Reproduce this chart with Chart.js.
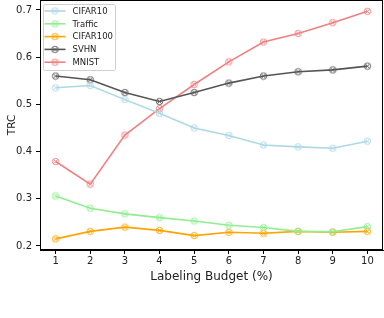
<!DOCTYPE html>
<html><head><meta charset="utf-8">
<script src="https://cdn.jsdelivr.net/npm/chart.js@4"></script>
<style>html,body{margin:0;padding:0;background:#fff}#c{display:block}</style>
</head><body>
<canvas id="c" width="384" height="318"></canvas>
<script>
const budgets = [1,2,3,4,5,6,7,8,9,10];
const xTicks = [1,2,3,4,5,6,7,8,9,10];
const yTicks = [0.2,0.3,0.4,0.5,0.6,0.7];
const seriesNames = ['CIFAR10','Traffic','CIFAR100','SVHN','MNIST'];
const cifar10 = [0.535,0.540,0.510,0.481,0.450,0.434,0.414,0.410,0.407,0.422];
const traffic = [0.306,0.280,0.268,0.260,0.253,0.244,0.239,0.231,0.230,0.241];
const cifar100 = [0.215,0.231,0.240,0.233,0.222,0.229,0.227,0.231,0.229,0.231];
const svhn = [0.560,0.552,0.525,0.506,0.525,0.545,0.560,0.569,0.573,0.581];
const mnist = [0.379,0.331,0.435,0.491,0.542,0.590,0.632,0.650,0.673,0.697];
const colors = ['#add8e6','#90ee90','#ffa500','#555555','#f08080'];
const values = [cifar10, traffic, cifar100, svhn, mnist];
const xTitle = 'Labeling Budget (%)';
const yTitle = 'TRC';

function marker(color){
  const c = document.createElement('canvas');
  c.width = 9; c.height = 9;
  const g = c.getContext('2d');
  const r = 3.2, cx = 4.5, cy = 4.5;
  g.strokeStyle = color; g.lineWidth = 1;
  g.globalAlpha = 0.9;
  g.beginPath(); g.arc(cx,cy,r,0,Math.PI*2); g.stroke();
  const d = r*0.7;
  g.beginPath();
  g.moveTo(cx-d,cy-d); g.lineTo(cx+d,cy+d);
  g.moveTo(cx+d,cy-d); g.lineTo(cx-d,cy+d);
  g.stroke();
  return c;
}
const markers = colors.map(marker);

const datasets = seriesNames.map((n,i)=>({
  label:n,
  data: budgets.map((b,j)=>({x:b,y:values[i][j]})),
  borderColor: colors[i],
  backgroundColor: colors[i],
  borderWidth: 1.6,
  pointStyle: markers[i],
  pointRadius: 3.5,
  tension: 0
}));

const FONT = "'DejaVu Sans'";
const zeroPad = () => ({left:0, top:0, right:0, bottom:0});

const framePlugin = {
  id:'frame',
  afterDraw(chart){
    const {ctx, chartArea:a} = chart;
    ctx.save();
    ctx.strokeStyle = '#000'; ctx.lineWidth = 1;
    ctx.strokeRect(Math.round(a.left)+0.5, Math.round(a.top)+0.5, Math.round(a.right-a.left)-1, Math.round(a.bottom-a.top)-1);
    // axis titles
    ctx.fillStyle = '#222';
    ctx.textAlign = 'center'; ctx.textBaseline = 'middle';
    ctx.font = "12px " + FONT;
    ctx.fillText(xTitle, (a.left+a.right)/2, a.bottom + 26.5);
    ctx.save();
    ctx.translate(12, (a.top+a.bottom)/2);
    ctx.rotate(-Math.PI/2);
    ctx.font = "10.5px " + FONT;
    ctx.fillText(yTitle, 0, 0);
    ctx.restore();
    // legend
    ctx.textAlign = 'left';
    const lx = a.left+3.5, ly = a.top+4.5, lw = 72, lh = 66;
    ctx.fillStyle = 'rgba(255,255,255,0.8)';
    ctx.strokeStyle = '#d0d0d0';
    ctx.beginPath();
    if (ctx.roundRect) ctx.roundRect(lx,ly,lw,lh,2); else ctx.rect(lx,ly,lw,lh);
    ctx.fill(); ctx.stroke();
    ctx.font = "8.5px " + FONT;
    seriesNames.forEach((n,i)=>{
      const y = ly + 6.5 + i*12.8;
      ctx.strokeStyle = colors[i]; ctx.lineWidth = 1.6;
      ctx.beginPath(); ctx.moveTo(lx+1, y); ctx.lineTo(lx+22, y); ctx.stroke();
      ctx.drawImage(markers[i], lx+11.5-4.5, y-4.5);
      ctx.fillStyle = '#222';
      ctx.fillText(n, lx+29, y+0.5);
    });
    ctx.restore();
  }
};

new Chart(document.getElementById('c'), {
  type:'line',
  data:{datasets},
  plugins:[framePlugin],
  options:{
    responsive:false, animation:false,
    layout:{autoPadding:false, padding:{top:0,right:1,left:0,bottom:0}},
    plugins:{legend:{display:false}, tooltip:{enabled:false}},
    scales:{
      x:{
        type:'linear', min:0.55, max:10.45,
        afterBuildTicks(s){ s.ticks = xTicks.map(v=>({value:v})); },
        afterFit(s){ s.height = 68; s.paddingLeft = 0; s.paddingRight = 0; s.paddingTop = 0; s.paddingBottom = 0; s.getPadding = zeroPad; },
        grid:{drawOnChartArea:false, drawTicks:true, tickLength:4, color:'#000', tickColor:'#000'},
        border:{display:true,color:'#000'},
        ticks:{color:'#222', font:{family:FONT,size:10}, padding:1, maxRotation:0, callback:v=>String(v)},
        title:{display:false}
      },
      y:{
        type:'linear', min:0.1915, max:0.721,
        afterBuildTicks(s){ s.ticks = yTicks.map(v=>({value:v})); },
        afterFit(s){ s.width = 40; s.paddingLeft = 0; s.paddingRight = 0; s.paddingTop = 0; s.paddingBottom = 0; s.getPadding = zeroPad; },
        grid:{drawOnChartArea:false, drawTicks:true, tickLength:4, color:'#000', tickColor:'#000'},
        border:{display:true,color:'#000'},
        ticks:{color:'#222', font:{family:FONT,size:10}, padding:4, callback:v=>v.toFixed(1)},
        title:{display:false}
      }
    }
  }
});
</script>
</body></html>
